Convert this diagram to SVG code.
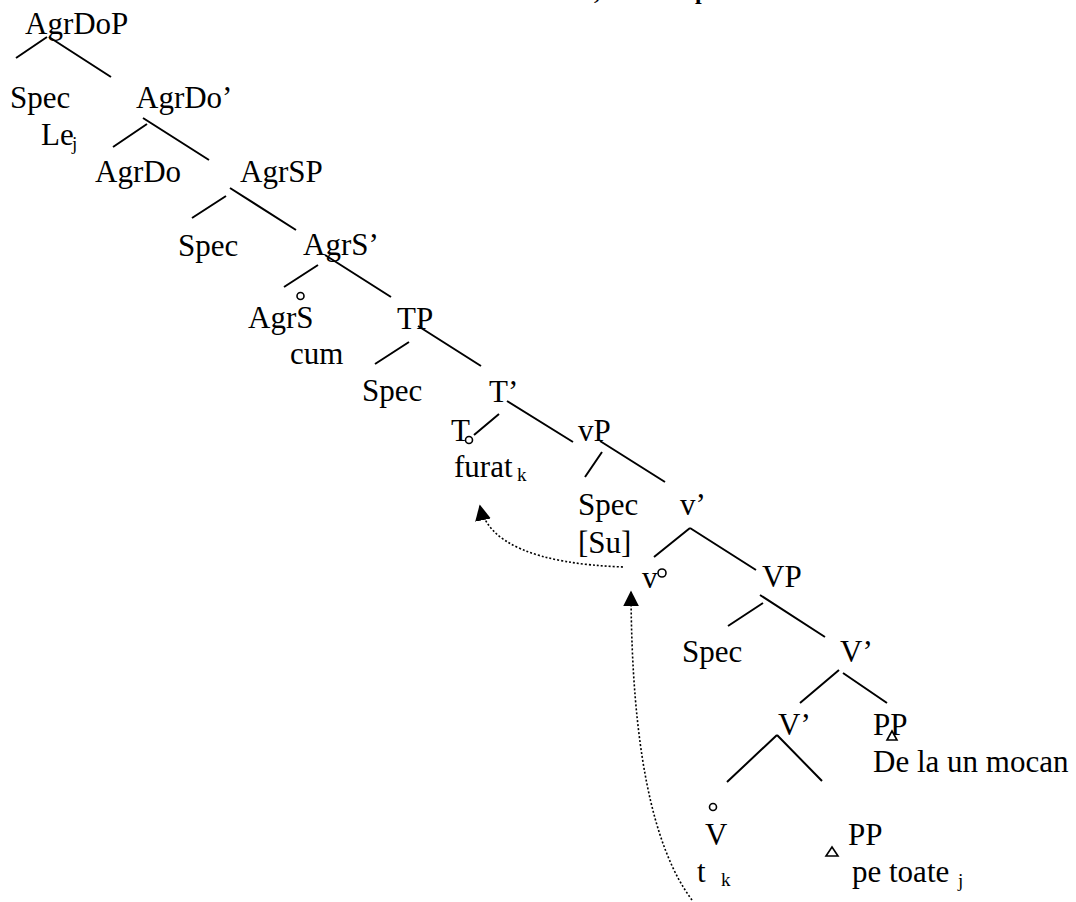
<svg xmlns="http://www.w3.org/2000/svg" width="1076" height="902" viewBox="0 0 1076 902">
<style>
text{font-family:"Liberation Serif","Times New Roman",serif;font-size:31px;fill:#000}
.sub{font-size:19px}
.top{font-weight:bold;font-size:24px}
.e{stroke:#000;stroke-width:2;fill:none}
.c{stroke:#000;stroke-width:1.6;fill:#fff}
.d{stroke:#000;stroke-width:1.6;fill:none;stroke-dasharray:2 2}
</style>
<defs>
<marker id="ah" viewBox="0 0 10 10" refX="9" refY="5" markerWidth="10" markerHeight="10" markerUnits="userSpaceOnUse" orient="auto">
<path d="M0,0 L10,5 L0,10 z" fill="#000"/>
</marker>
<marker id="ah2" viewBox="0 0 10 10" refX="9" refY="5" markerWidth="16" markerHeight="16" markerUnits="userSpaceOnUse" orient="auto">
<path d="M0,0 L10,5 L0,10 z" fill="#000"/>
</marker>
</defs>
<text class="top" x="594" y="-1">,</text>
<text class="top" x="695" y="-1">p</text>
<g id="connectors">
<path class="e" d="M47,37 L16,58 M49,37 L111,77"/>
<path class="e" d="M147,124 L113,147 M143,118 L209,160"/>
<path class="e" d="M226,196 L192,218 M230,188 L296,230"/>
<path class="e" d="M318,265 L284,287 M325,255 L391,297"/>
<path class="e" d="M409,342 L375,364 M418,326 L481,366"/>
<path class="e" d="M499,414 L474,435 M507,401 L573,442"/>
<path class="e" d="M602,452 L585,477 M600,441 L665,482"/>
<path class="e" d="M690,528 L654,557 M690,528 L756,570"/>
<path class="e" d="M763,603 L728,626 M760,595 L825,637"/>
<path class="e" d="M839,670 L800,703 M843,673 L887,703"/>
<path class="e" d="M777,735 L727,782 M777,735 L822,781"/>
<path class="d" d="M623,567 Q 492,562 480,506" marker-end="url(#ah2)"/>
<path class="d" d="M692,900 Q 632,820 631,592" marker-end="url(#ah2)"/>
</g>
<g id="n-agrdop"><text x="25" y="34">AgrDoP</text></g>
<g id="n-spec1"><text x="10" y="108">Spec</text><text x="41" y="145">Le</text><text class="sub" x="72" y="150">j</text></g>
<g id="n-agrdo1"><text x="136" y="108">AgrDo’</text></g>
<g id="n-agrdo"><text x="95" y="182">AgrDo</text></g>
<g id="n-agrsp"><text x="240" y="182">AgrSP</text></g>
<g id="n-spec2"><text x="178" y="256">Spec</text></g>
<g id="n-agrs1"><text x="303" y="255">AgrS’</text></g>
<g id="n-agrs"><circle class="c" cx="300.5" cy="296" r="3.5"/><text x="248" y="328">AgrS</text><text x="290" y="364">cum</text></g>
<g id="n-tp"><text x="397" y="329">TP</text></g>
<g id="n-spec3"><text x="362" y="401">Spec</text></g>
<g id="n-t1"><text x="489" y="402">T’</text></g>
<g id="n-t"><text x="451" y="441">T</text><circle class="c" cx="469" cy="440" r="3.5"/><text x="454" y="477">furat</text><text class="sub" x="517" y="481">k</text></g>
<g id="n-vp"><text x="578" y="441">vP</text></g>
<g id="n-spec4"><text x="578" y="515">Spec</text><text x="578" y="553">[Su]</text></g>
<g id="n-v1"><text x="680" y="515">v’</text></g>
<g id="n-v"><text x="642" y="588">v</text><circle class="c" cx="662" cy="573" r="4"/></g>
<g id="n-VP"><text x="762" y="587">VP</text></g>
<g id="n-spec5"><text x="682" y="662">Spec</text></g>
<g id="n-V1"><text x="840" y="662">V’</text></g>
<g id="n-V2"><text x="778" y="735">V’</text></g>
<g id="n-pp1"><text x="873" y="735">PP</text><path class="c" d="M892,731 L897,740 L887,740 z"/><text x="873" y="772">De la un mocan</text></g>
<g id="n-V"><circle class="c" cx="713" cy="807" r="3.5"/><text x="705" y="845">V</text><text x="697" y="882">t</text><text class="sub" x="721" y="886">k</text></g>
<g id="n-pp2"><path class="c" d="M832,847 L838,856 L826,856 z"/><text x="848" y="845">PP</text><text x="852" y="882">pe toate</text><text class="sub" x="958" y="887">j</text></g>
</svg>
